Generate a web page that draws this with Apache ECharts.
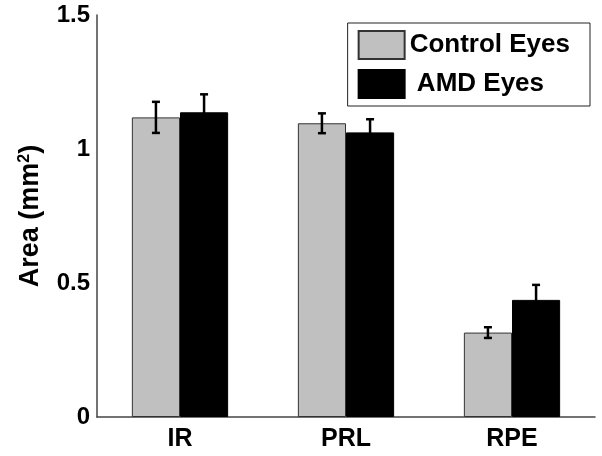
<!DOCTYPE html>
<html>
<head>
<meta charset="utf-8">
<script src="https://cdn.jsdelivr.net/npm/echarts@6/dist/echarts.min.js"></script>
<style>html,body{margin:0;padding:0;background:#fff}#c{width:602px;height:456px}</style>
</head>
<body>
<div id="c"></div>
<script>
const categories = ['IR', 'PRL', 'RPE'];
const controlValues = [1.118, 1.096, 0.315];
const controlErrors = [0.058, 0.037, 0.020];
const amdValues = [1.137, 1.062, 0.437];
const amdErrors = [0.067, 0.049, 0.056];
const seriesNames = ['Control Eyes', 'AMD Eyes'];
const yTicks = [0, 0.5, 1, 1.5];

const FONT = 'Liberation Sans, Arial, sans-serif';
const GAP = 0.42;

function errSeries(values, errors, idx) {
  return {
    type: 'custom',
    z: 10,
    silent: true,
    data: values.map((v, i) => [i, v, errors[i]]),
    renderItem: function (params, api) {
      const i = api.value(0), v = api.value(1), e = api.value(2);
      const band = api.size([1, 0])[0];
      const bw = band * (1 - GAP) / 2;
      const c = api.coord([i, v]);
      const x = c[0] + (idx === 0 ? -bw / 2 : bw / 2);
      const yt = api.coord([i, v + e])[1];
      const yb = api.coord([i, v - e])[1];
      const cap = 4;
      const st = { stroke: '#000', lineWidth: 2.5 };
      return {
        type: 'group',
        children: [
          { type: 'line', shape: { x1: x, y1: yt, x2: x, y2: yb }, style: st },
          { type: 'line', shape: { x1: x - cap, y1: yt, x2: x + cap, y2: yt }, style: st },
          { type: 'line', shape: { x1: x - cap, y1: yb, x2: x + cap, y2: yb }, style: st }
        ]
      };
    },
    encode: { x: 0, y: 1 }
  };
}

const chart = echarts.init(document.getElementById('c'), null, { renderer: 'canvas' });
chart.setOption({
  animation: false,
  backgroundColor: '#fff',
  grid: { left: 97, right: 7, top: 15, bottom: 39 },
  legend: {
    data: seriesNames,
    orient: 'vertical',
    right: 12,
    top: 23,
    backgroundColor: '#fff',
    borderColor: '#222',
    borderWidth: 1,
    borderRadius: 0,
    padding: [7, 20, 7, 10],
    itemWidth: 46,
    itemHeight: 28,
    itemGap: 9,
    icon: 'rect',
    formatter: function (name) { return name === seriesNames[1] ? ' ' + name : name; },
    textStyle: { fontFamily: FONT, fontWeight: 'bold', fontSize: 26, color: '#000' }
  },
  xAxis: {
    type: 'category',
    data: categories,
    axisLine: { lineStyle: { color: '#444', width: 1.5 } },
    axisTick: { show: false },
    axisLabel: { fontFamily: FONT, fontWeight: 'bold', fontSize: 25, color: '#000', margin: 10 }
  },
  yAxis: {
    type: 'value',
    min: 0, max: 1.5, interval: 0.5,
    name: 'Area (mm{sup|2})',
    nameLocation: 'middle',
    nameGap: 52,
    nameTextStyle: {
      fontFamily: FONT, fontWeight: 'bold', fontSize: 27, color: '#000',
      rich: { sup: { fontFamily: FONT, fontWeight: 'bold', fontSize: 16, color: '#000', verticalAlign: 'top', padding: [0, 0, 12, 0] } }
    },
    axisLine: { show: true, lineStyle: { color: '#444', width: 1.5 } },
    axisTick: { show: false },
    splitLine: { show: false },
    axisLabel: {
      fontFamily: FONT, fontWeight: 'bold', fontSize: 24, color: '#000', margin: 7,
      formatter: function (v) { return yTicks.indexOf(v) >= 0 ? String(v) : ''; }
    }
  },
  series: [
    {
      name: seriesNames[0], type: 'bar', data: controlValues,
      barGap: '0%', barCategoryGap: (GAP * 100) + '%',
      itemStyle: { color: '#c0c0c0', borderColor: '#333', borderWidth: 1 }
    },
    {
      name: seriesNames[1], type: 'bar', data: amdValues,
      barGap: '0%', barCategoryGap: (GAP * 100) + '%',
      itemStyle: { color: '#000', borderColor: '#000', borderWidth: 1 }
    },
    errSeries(controlValues, controlErrors, 0),
    errSeries(amdValues, amdErrors, 1)
  ]
});
</script>
</body>
</html>
